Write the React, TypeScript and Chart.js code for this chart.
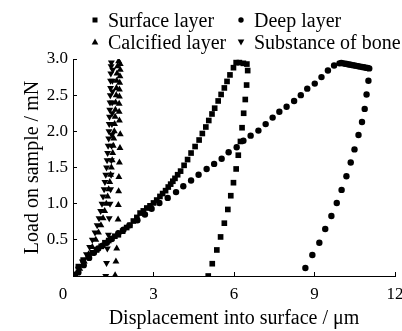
import React, { useEffect, useRef } from "react";
import { Chart, registerables } from "chart.js";

Chart.register(...registerables);

// Surface layer (squares)
const surfaceX = [0.07,0.2,0.38,0.57,0.72,0.88,1.05,1.19,1.33,1.44,1.56,1.69,1.85,2.0,2.12,2.25,2.38,2.5,2.62,2.75,2.87,3.0,3.12,3.24,3.34,3.45,3.55,3.64,3.72,3.8,3.9,4.01,4.14,4.27,4.4,4.55,4.7,4.82,4.95,5.06,5.18,5.28,5.41,5.52,5.64,5.74,5.85,5.98,6.08,6.2,6.35,6.48,6.51,6.47,6.42,6.36,6.3,6.24,6.16,6.08,5.98,5.88,5.77,5.64,5.5,5.36,5.19,5.04];
const surfaceY = [0.01,0.13,0.22,0.28,0.32,0.36,0.41,0.46,0.49,0.52,0.55,0.57,0.62,0.67,0.7,0.76,0.81,0.87,0.9,0.94,0.97,1.01,1.05,1.1,1.14,1.18,1.23,1.27,1.31,1.35,1.4,1.45,1.53,1.61,1.7,1.79,1.88,1.97,2.06,2.15,2.24,2.32,2.42,2.51,2.6,2.69,2.78,2.88,2.95,2.95,2.94,2.93,2.84,2.64,2.44,2.25,2.05,1.86,1.67,1.48,1.29,1.11,0.92,0.73,0.54,0.36,0.17,0.0];

// Deep layer (circles)
const deepX = [0.2,0.4,0.6,0.78,0.94,1.1,1.26,1.44,1.69,1.88,2.1,2.4,2.68,2.93,3.22,3.53,3.84,4.11,4.4,4.68,4.98,5.26,5.54,5.8,6.1,6.35,6.62,6.91,7.18,7.44,7.69,7.96,8.24,8.49,8.73,9.01,9.26,9.5,9.73,9.93,10.0,10.07,10.14,10.21,10.28,10.35,10.42,10.49,10.56,10.63,10.7,10.77,10.84,10.91,10.98,11.04,11.01,10.94,10.87,10.77,10.64,10.49,10.35,10.19,10.01,9.83,9.63,9.4,9.18,8.92,8.66];
const deepY = [0.05,0.15,0.25,0.32,0.38,0.42,0.46,0.51,0.59,0.64,0.7,0.77,0.85,0.93,1.01,1.08,1.16,1.24,1.32,1.4,1.48,1.55,1.62,1.71,1.78,1.87,1.94,2.01,2.1,2.19,2.27,2.34,2.42,2.5,2.59,2.66,2.75,2.84,2.91,2.94,2.945,2.94,2.935,2.93,2.925,2.92,2.915,2.91,2.905,2.9,2.895,2.89,2.885,2.88,2.875,2.87,2.7,2.51,2.31,2.13,1.95,1.75,1.57,1.38,1.19,1.01,0.83,0.65,0.46,0.29,0.11];

// Calcified layer (triangles)
const calcX = [0.08,0.25,0.42,0.58,0.72,0.85,0.95,1.04,1.12,1.18,1.24,1.29,1.33,1.37,1.4,1.43,1.46,1.48,1.5,1.52,1.54,1.55,1.57,1.58,1.59,1.61,1.62,1.63,1.64,1.66,1.7,1.76,1.76,1.75,1.74,1.73,1.73,1.72,1.72,1.73,1.76,1.75,1.73,1.71,1.7,1.69,1.68,1.66,1.63,1.6,1.57];
const calcY = [0.02,0.1,0.2,0.3,0.4,0.5,0.6,0.7,0.8,0.9,1.0,1.1,1.2,1.3,1.4,1.5,1.6,1.7,1.8,1.9,2.0,2.1,2.2,2.3,2.4,2.5,2.6,2.7,2.8,2.9,2.97,2.93,2.85,2.76,2.67,2.58,2.48,2.38,2.27,2.15,1.96,1.77,1.57,1.37,1.17,0.98,0.78,0.58,0.38,0.2,0.01];

// Substance of bone (inverted triangles)
const boneX = [0.05,0.2,0.35,0.5,0.62,0.72,0.82,0.9,0.97,1.03,1.08,1.12,1.16,1.19,1.22,1.25,1.27,1.29,1.31,1.33,1.34,1.35,1.36,1.37,1.38,1.39,1.4,1.4,1.41,1.42,1.43,1.48,1.47,1.47,1.46,1.46,1.45,1.45,1.44,1.43,1.42,1.4,1.38,1.35,1.32,1.28,1.25,1.22];
const boneY = [0.02,0.1,0.2,0.3,0.4,0.5,0.6,0.7,0.8,0.9,1.0,1.1,1.2,1.3,1.4,1.5,1.6,1.7,1.8,1.9,2.0,2.1,2.2,2.3,2.4,2.5,2.6,2.7,2.8,2.9,2.95,2.85,2.7,2.55,2.4,2.25,2.1,1.95,1.8,1.6,1.4,1.2,1.0,0.8,0.57,0.38,0.18,0.0];

const seriesNames = ["Surface layer", "Deep layer", "Calcified layer", "Substance of bone"];
const xTicks = [0, 3, 6, 9, 12];
const yTicks = [0, 0.5, 1.0, 1.5, 2.0, 2.5, 3.0];
const xTitle = "Displacement into surface / \u03bcm";
const yTitle = "Load on sample / mN";

const FONT = "'Liberation Serif', 'Times New Roman', serif";

function zip(xs: number[], ys: number[]) {
  return xs.map((x, i) => ({ x, y: ys[i] }));
}

const cornerZero = {
  id: "cornerZero",
  afterDraw(chart: any) {
    const ctx = chart.ctx;
    const xs = chart.scales.x;
    ctx.save();
    ctx.fillStyle = "#000";
    ctx.font = "17px " + FONT;
    ctx.textAlign = "center";
    ctx.textBaseline = "middle";
    ctx.fillText(String(xTicks[0]), xs.getPixelForValue(0) - 10, 295);
    ctx.restore();
  },
};

function LegendMarker({ kind }: { kind: string }) {
  let shape: any = null;
  if (kind === "square") shape = <rect x={2.5} y={2.5} width={5} height={5} fill="#000" />;
  if (kind === "circle") shape = <circle cx={5} cy={5} r={2.7} fill="#000" />;
  if (kind === "up") shape = <polygon points="5,1.5 8.3,7.5 1.7,7.5" fill="#000" />;
  if (kind === "down") shape = <polygon points="1.7,2.5 8.3,2.5 5,8.5" fill="#000" />;
  return (
    <svg width={10} height={10} style={{ display: "block" }}>
      {shape}
    </svg>
  );
}

export default function App() {
  const ref = useRef<HTMLCanvasElement | null>(null);

  useEffect(() => {
    document.body.style.margin = "0";
    const canvas = ref.current;
    if (!canvas) return;
    const common = {
      showLine: false,
      borderColor: "#000",
      backgroundColor: "#000",
      pointBorderWidth: 0,
    };
    const chart = new Chart(canvas, {
      type: "scatter",
      data: {
        datasets: [
          { ...common, label: seriesNames[0], data: zip(surfaceX, surfaceY), pointStyle: "rect", pointRadius: 4 },
          { ...common, label: seriesNames[1], data: zip(deepX, deepY), pointStyle: "circle", pointRadius: 3.2 },
          { ...common, label: seriesNames[2], data: zip(calcX, calcY), pointStyle: "triangle", pointRadius: 4 },
          { ...common, label: seriesNames[3], data: zip(boneX, boneY), pointStyle: "triangle", pointRotation: 180, pointRadius: 4 },
        ],
      },
      options: {
        animation: false,
        responsive: true,
        maintainAspectRatio: false,
        layout: { padding: { top: 59, right: 7, left: 0, bottom: 0 } },
        plugins: { legend: { display: false }, tooltip: { enabled: false } },
        scales: {
          x: {
            type: "linear",
            min: 0,
            max: 12,
            afterBuildTicks: (s: any) => {
              s.ticks = xTicks.map((v) => ({ value: v }));
            },
            afterFit: (s: any) => {
              s.height = 55;
              s.paddingLeft = 0;
              s.paddingRight = 0;
            },
            border: { display: true, color: "#000", width: 1 },
            grid: { drawOnChartArea: false, drawTicks: true, tickLength: -4, color: "#000" },
            ticks: {
              color: "#000",
              font: { family: FONT, size: 17 },
              padding: 12,
              maxRotation: 0,
              callback: (v: any) => (v === 0 ? "" : String(v)),
            },
            title: {
              display: true,
              text: xTitle,
              color: "#000",
              font: { family: FONT, size: 20 },
              padding: { top: 0, bottom: 0 },
            },
          },
          y: {
            type: "linear",
            min: 0,
            max: 3,
            afterBuildTicks: (s: any) => {
              s.ticks = yTicks.map((v) => ({ value: v }));
            },
            afterFit: (s: any) => {
              s.width = 73;
              s.paddingTop = 0;
              s.paddingBottom = 0;
            },
            border: { display: true, color: "#000", width: 1 },
            grid: { drawOnChartArea: false, drawTicks: true, tickLength: -4, color: "#000" },
            ticks: {
              color: "#000",
              font: { family: FONT, size: 17 },
              padding: 9,
              callback: (v: any) => (v === 0 ? "" : Number(v).toFixed(1)),
            },
            title: {
              display: true,
              text: yTitle,
              color: "#000",
              font: { family: FONT, size: 20 },
              padding: { top: 21, bottom: 0 },
            },
          },
        },
      },
      plugins: [cornerZero],
    } as any);
    return () => chart.destroy();
  }, []);

  const legendItems = [
    { kind: "square", label: seriesNames[0], left: 90, top: 20 },
    { kind: "circle", label: seriesNames[1], left: 236, top: 20 },
    { kind: "up", label: seriesNames[2], left: 90, top: 42 },
    { kind: "down", label: seriesNames[3], left: 236, top: 42 },
  ];

  return (
    <div style={{ position: "relative", width: 402, height: 331, background: "#fff" }}>
      <canvas ref={ref} />
      {legendItems.map((it) => (
        <div
          key={it.label}
          style={{
            position: "absolute",
            left: it.left,
            top: it.top - 12,
            height: 24,
            display: "flex",
            alignItems: "center",
            fontFamily: FONT,
            fontSize: 20,
            color: "#000",
            whiteSpace: "nowrap",
            lineHeight: "24px",
          }}
        >
          <LegendMarker kind={it.kind} />
          <span style={{ marginLeft: 8 }}>{it.label}</span>
        </div>
      ))}
    </div>
  );
}
